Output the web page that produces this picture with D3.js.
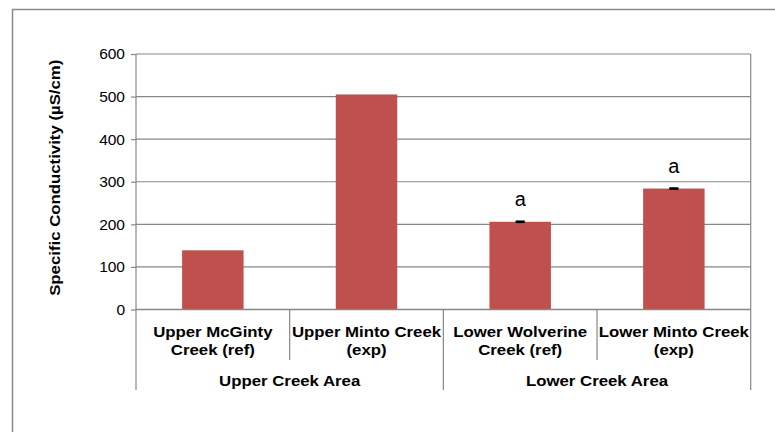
<!DOCTYPE html>
<html>
<head>
<meta charset="utf-8">
<script src="https://cdn.jsdelivr.net/npm/d3@7"></script>
<style>
  html, body { margin: 0; padding: 0; background: #fff; }
  svg { display: block; font-family: "Liberation Sans", Arial, sans-serif; }
</style>
</head>
<body>
<div id="chart"></div>
<script>
const siteLines = [
  ["Upper McGinty", "Creek (ref)"],
  ["Upper Minto Creek", "(exp)"],
  ["Lower Wolverine", "Creek (ref)"],
  ["Lower Minto Creek", "(exp)"]
]
const siteArea = [0, 0, 1, 1]
const areas = ["Upper Creek Area", "Lower Creek Area"]
const conductivity = [139, 505, 206, 284]
const errors = [null, null, 1, 1]
const letters = ["", "", "a", "a"]
const yTicks = [0, 100, 200, 300, 400, 500, 600]

const width = 775
const height = 432
const margin = { top: 54, right: 24.3, bottom: 122.5, left: 136 }
const gridColor = "#878787"
const boldStretch = 1.12 // the bold labels render wider than Arial Bold

const svg = d3
  .select("#chart")
  .append("svg")
  .attr("width", width)
  .attr("height", height)

// outer chart frame (only left and top edges are in view)
svg
  .append("rect")
  .attr("x", 12.5)
  .attr("y", 9.5)
  .attr("width", 900)
  .attr("height", 600)
  .attr("fill", "none")
  .attr("stroke", "#8a8a8a")
  .attr("stroke-width", 1.5)

const x = d3
  .scaleBand()
  .domain(d3.range(siteLines.length))
  .range([margin.left, width - margin.right])
  .padding(0)

const y = d3
  .scaleLinear()
  .domain([0, 600])
  .range([height - margin.bottom, margin.top])

const x0 = margin.left
const x1 = width - margin.right
const y0 = y(0)

// gridlines
svg
  .append("g")
  .selectAll("line")
  .data(yTicks.filter((d) => d > 0))
  .enter()
  .append("line")
  .attr("x1", x0)
  .attr("x2", x1)
  .attr("y1", (d) => y(d))
  .attr("y2", (d) => y(d))
  .attr("stroke", gridColor)
  .attr("stroke-width", 1.2)

// right border of plot area
svg
  .append("line")
  .attr("x1", x1)
  .attr("x2", x1)
  .attr("y1", y(600))
  .attr("y2", y0)
  .attr("stroke", gridColor)
  .attr("stroke-width", 1.2)

// y axis
const yAxis = svg
  .append("g")
  .attr("transform", `translate(${x0},0)`)
  .call(d3.axisLeft(y).tickValues(yTicks).tickSize(5).tickPadding(6))
yAxis.select(".domain").remove()
yAxis.selectAll("line").attr("stroke", gridColor).attr("stroke-width", 1.2)
yAxis
  .selectAll("text")
  .attr("font-family", "Liberation Sans, Arial, sans-serif")
  .attr("font-size", 15.5)
  .attr("fill", "#000")

svg
  .append("line")
  .attr("x1", x0)
  .attr("x2", x0)
  .attr("y1", y(600))
  .attr("y2", 390)
  .attr("stroke", gridColor)
  .attr("stroke-width", 1.2)

svg
  .append("text")
  .attr(
    "transform",
    `translate(60,${(y(600) + y0) / 2 - 4}) rotate(-90) scale(${boldStretch},1)`
  )
  .attr("text-anchor", "middle")
  .attr("font-size", 15)
  .attr("font-weight", "bold")
  .text("Specific Conductivity (µS/cm)")

// bars
const barW = x.bandwidth() * 0.4
svg
  .append("g")
  .selectAll("rect")
  .data(conductivity)
  .enter()
  .append("rect")
  .attr("x", (d, i) => x(i) + (x.bandwidth() - barW) / 2)
  .attr("y", (d) => y(d))
  .attr("width", barW)
  .attr("height", (d) => y0 - y(d))
  .attr("fill", "#C0504D")

// x axis baseline and category separators
svg
  .append("line")
  .attr("x1", x0)
  .attr("x2", x1)
  .attr("y1", y0)
  .attr("y2", y0)
  .attr("stroke", gridColor)
  .attr("stroke-width", 1.5)

const bounds = d3.range(siteLines.length + 1)
svg
  .append("g")
  .selectAll("line")
  .data(bounds.slice(1))
  .enter()
  .append("line")
  .attr("x1", (i) => (i < siteLines.length ? x(i) : x1))
  .attr("x2", (i) => (i < siteLines.length ? x(i) : x1))
  .attr("y1", y0)
  .attr("y2", (i) =>
    i === siteLines.length || siteArea[i] !== siteArea[i - 1] ? 390 : 360
  )
  .attr("stroke", gridColor)
  .attr("stroke-width", 1.2)

// error bars
const errData = conductivity
  .map((v, i) => ({ i, v, e: errors[i] }))
  .filter((d) => d.e != null)
const errG = svg.append("g").attr("stroke", "#000").attr("stroke-width", 1.8)
errData.forEach((d) => {
  const cx = x(d.i) + x.bandwidth() / 2
  errG
    .append("line")
    .attr("x1", cx)
    .attr("x2", cx)
    .attr("y1", y(d.v - d.e))
    .attr("y2", y(d.v + d.e))
  ;[d.v - d.e, d.v + d.e].forEach((v) => {
    errG
      .append("line")
      .attr("x1", cx - 4.5)
      .attr("x2", cx + 4.5)
      .attr("y1", y(v))
      .attr("y2", y(v))
  })
})

// significance letters
svg
  .append("g")
  .selectAll("text")
  .data(conductivity)
  .enter()
  .append("text")
  .attr("x", (d, i) => x(i) + x.bandwidth() / 2)
  .attr("y", (d, i) => y(d + (errors[i] || 0)) - 15.5)
  .attr("text-anchor", "middle")
  .attr("font-size", 20)
  .text((d, i) => letters[i])

// category labels, one text per line
const catLines = siteLines.flatMap((lines, i) =>
  lines.map((t, j) => ({ t, i, j }))
)
svg
  .append("g")
  .selectAll("text")
  .data(catLines)
  .enter()
  .append("text")
  .attr(
    "transform",
    (d) =>
      `translate(${x(d.i) + x.bandwidth() / 2},${336.5 + d.j * 18.5}) scale(${boldStretch},1)`
  )
  .attr("text-anchor", "middle")
  .attr("font-size", 15)
  .attr("font-weight", "bold")
  .text((d) => d.t)

// group labels
svg
  .append("g")
  .selectAll("text")
  .data(areas)
  .enter()
  .append("text")
  .attr("transform", (d, g) => {
    const idx = siteArea
      .map((a, i) => (a === g ? i : -1))
      .filter((i) => i >= 0)
    const cx = (x(idx[0]) + x(idx[idx.length - 1]) + x.bandwidth()) / 2
    return `translate(${cx},386) scale(${boldStretch},1)`
  })
  .attr("text-anchor", "middle")
  .attr("font-size", 15)
  .attr("font-weight", "bold")
  .text((d) => d)
</script>
</body>
</html>
